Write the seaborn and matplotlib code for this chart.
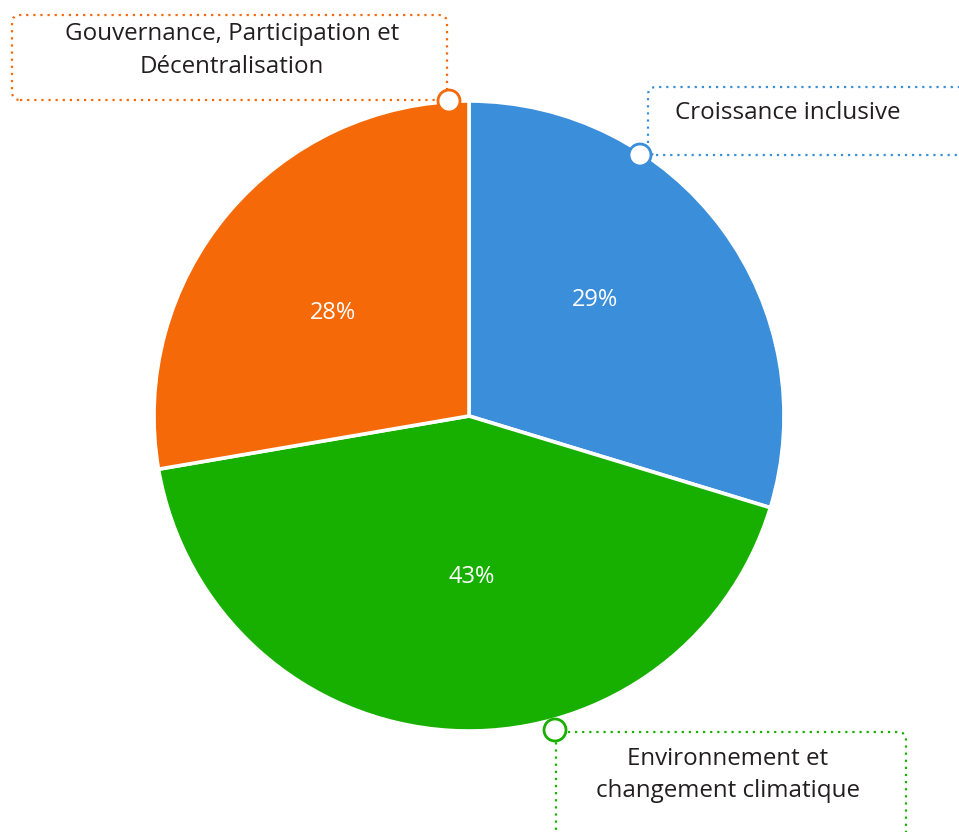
import matplotlib
matplotlib.use("Agg")
from matplotlib import pyplot as plt
from matplotlib.patches import FancyBboxPatch, Circle
import numpy as np
import seaborn as sns

sns.set_theme(style="white")
plt.rcParams['font.family'] = ['Open Sans', 'DejaVu Sans']

labels = ["Croissance inclusive", "Environnement et\nchangement climatique",
          "Gouvernance, Participation et\nDécentralisation"]
# slice shares as drawn, and the percentages printed on them
values = [29.7, 42.6, 27.7]
pct_labels = ["29%", "43%", "28%"]
colors = ["#3A8EDA", "#18B000", "#F56908"]

W, H = 959, 832
fig = plt.figure(figsize=(W / 100, H / 100), dpi=100)
ax = fig.add_axes([0, 0, 1, 1])

# pie in pixel coordinates (y up)
cx, cy, r = 469, H - 416, 315
wedges, _ = ax.pie(
    values, colors=colors, startangle=90, counterclock=False,
    center=(cx, cy), radius=r, explode=[0.012] * 3,
    wedgeprops=dict(edgecolor="white", linewidth=2.6),
)
ax.set_xlim(0, W)
ax.set_ylim(0, H)
ax.set_aspect("equal")
ax.axis("off")

# percent labels inside the slices
for w, txt in zip(wedges, pct_labels):
    ang = np.deg2rad((w.theta1 + w.theta2) / 2 + 4.5)
    ax.text(cx + 0.53 * r * np.cos(ang), cy + 0.53 * r * np.sin(ang) + 6, txt,
            ha="center", va="center", color="white", fontsize=17)

dot = (0, (1, 2.2))
text_color = "#231f20"

# callout boxes: (x0, y0, x1, y1) in pixel coords from top, circle anchor, text pos
callouts = [
    (colors[0], (648, 87, 985, 155), (640, 155), (675, 113), "left"),
    (colors[1], (556, 732, 906, 870), (555, 730), (728, 775), "center"),
    (colors[2], (12, 15, 447, 100), (449, 101), (232, 50.5), "center"),
]
for (col, (x0, y0, x1, y1), (px, py), (tx, ty), ha), lab in zip(callouts, labels):
    box = FancyBboxPatch((x0, H - y1), x1 - x0, y1 - y0,
                         boxstyle="round,pad=0,rounding_size=8",
                         facecolor="none", edgecolor=col, linewidth=1.6,
                         linestyle=dot, clip_on=False)
    ax.add_patch(box)
    ax.add_patch(Circle((px, H - py), 11, facecolor="white", edgecolor=col,
                        linewidth=2, zorder=5))
    ax.text(tx, H - ty, lab, ha=ha, va="center", fontsize=17.4,
            color=text_color, linespacing=1.45)

plt.savefig("out.png", dpi=100)
